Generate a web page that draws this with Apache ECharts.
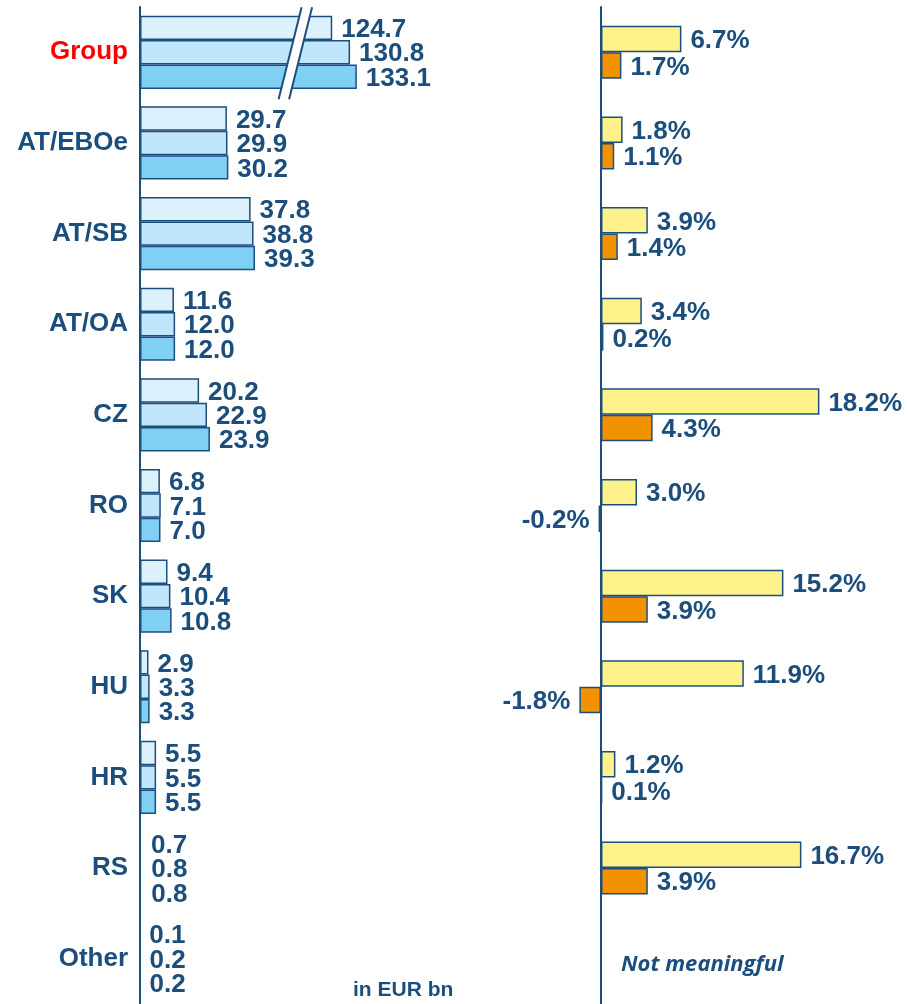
<!DOCTYPE html>
<html>
<head>
<meta charset="utf-8">
<script src="https://cdn.jsdelivr.net/npm/echarts@6/dist/echarts.min.js"></script>
<style>
html,body{margin:0;padding:0;background:#fff;}
#chart{width:908px;height:1004px;}
</style>
</head>
<body>
<div id="chart"></div>
<script>
// categories (top to bottom)
var categories = ['Group', 'AT/EBOe', 'AT/SB', 'AT/OA', 'CZ', 'RO', 'SK', 'HU', 'HR', 'RS', 'Other'];
// volumes in EUR bn, three periods
var volA = [124.7, 29.7, 37.8, 11.6, 20.2, 6.8, 9.4, 2.9, 5.5, 0.7, 0.1];
var volB = [130.8, 29.9, 38.8, 12.0, 22.9, 7.1, 10.4, 3.3, 5.5, 0.8, 0.2];
var volC = [133.1, 30.2, 39.3, 12.0, 23.9, 7.0, 10.8, 3.3, 5.5, 0.8, 0.2];
// growth rates in %
var growthYoY = [6.7, 1.8, 3.9, 3.4, 18.2, 3.0, 15.2, 11.9, 1.2, 16.7, null];
var growthQoQ = [1.7, 1.1, 1.4, 0.2, 4.3, -0.2, 3.9, -1.8, 0.1, 3.9, null];
// axis break on the left value axis
var breakFrom = 53, breakTo = 112;

var navy = '#1c4e7d';
var font = '"Liberation Sans", Arial, sans-serif';
// these rows show numbers only, no bars
var hideSmall = ['RS', 'Other'];

function volData(arr) {
    return arr.map(function (v, i) {
        if (hideSmall.indexOf(categories[i]) >= 0) {
            return {value: v, itemStyle: {color: 'rgba(0,0,0,0)', borderWidth: 0}};
        }
        return v;
    });
}
function growthData(arr) {
    return arr.map(function (v) {
        if (v !== null && v < 0) {
            return {value: v, label: {position: 'left'}};
        }
        return v;
    });
}

var valueLabel = {
    show: true,
    position: 'right',
    distance: 9,
    offset: [0, 2],
    color: navy,
    fontFamily: font,
    fontWeight: 'bold',
    fontSize: 26
};

function volSeries(name, arr, color) {
    return {
        name: name,
        type: 'bar',
        xAxisIndex: 0,
        yAxisIndex: 0,
        barWidth: 24.4,
        barGap: '0%',
        data: volData(arr),
        itemStyle: {color: color, borderColor: navy, borderWidth: 1.5},
        label: Object.assign({}, valueLabel, {
            formatter: function (p) { return p.value.toFixed(1); }
        })
    };
}
function growthSeries(name, arr, color) {
    return {
        name: name,
        type: 'bar',
        xAxisIndex: 1,
        yAxisIndex: 1,
        barWidth: 26.5,
        barGap: '0%',
        data: growthData(arr),
        itemStyle: {color: color, borderColor: navy, borderWidth: 1.5},
        label: Object.assign({}, valueLabel, {
            formatter: function (p) { return p.value.toFixed(1) + '%'; }
        })
    };
}

var chart = echarts.init(document.getElementById('chart'));
var option = {
    animation: false,
    grid: [
        {left: 140, top: 7, width: 237, height: 1000},
        {left: 541, top: 7, width: 300, height: 1000}
    ],
    title: [
        {
            text: 'in EUR bn', left: 348, top: 975,
            textStyle: {color: navy, fontFamily: font, fontWeight: 'bold', fontSize: 21}
        },
        {
            text: 'Not meaningful', left: 616, top: 949,
            textStyle: {color: navy, fontFamily: '"Open Sans", sans-serif', fontStyle: 'italic', fontWeight: 'bold', fontSize: 22}
        }
    ],
    xAxis: [
        {
            gridIndex: 0, type: 'value', min: 0, max: 140,
            breaks: [{start: breakFrom, end: breakTo, gap: 0}],
            breakArea: {show: false},
            axisLine: {show: false}, axisTick: {show: false},
            axisLabel: {show: false}, splitLine: {show: false}
        },
        {
            gridIndex: 1, type: 'value', min: -5, max: 20,
            axisLine: {show: false}, axisTick: {show: false},
            axisLabel: {show: false}, splitLine: {show: false}
        }
    ],
    yAxis: [
        {
            gridIndex: 0, type: 'category', inverse: true, data: categories,
            axisLine: {show: true, lineStyle: {color: navy, width: 2}},
            axisTick: {show: false},
            axisLabel: {
                margin: 12,
                padding: [5, 0, 0, 0],
                fontFamily: font, fontWeight: 'bold', fontSize: 26,
                color: function (v) { return v === 'Group' ? '#ff0000' : navy; }
            }
        },
        {
            gridIndex: 1, type: 'category', inverse: true, data: categories,
            axisLine: {show: true, onZero: true, lineStyle: {color: navy, width: 2}},
            axisTick: {show: false},
            axisLabel: {show: false}
        }
    ],
    series: [
        volSeries('vol1', volA, '#ddf1fd'),
        volSeries('vol2', volB, '#bfe6fa'),
        volSeries('vol3', volC, '#80d0f4'),
        growthSeries('yoy', growthYoY, '#fff28a'),
        growthSeries('qoq', growthQoQ, '#f39200'),
        {
            // break marker across the Group bars
            type: 'custom',
            xAxisIndex: 0,
            yAxisIndex: 0,
            z: 10,
            data: [[breakFrom, 0]],
            renderItem: function (params, api) {
                var c = api.coord([api.value(0), api.value(1)]);
                var top = c[1] - 45, bot = c[1] + 47, s = 11.5, w = 10.5;
                var x = c[0] - 5;
                return {
                    type: 'group',
                    children: [
                        {type: 'polygon', shape: {points: [[x + s, top], [x + s + w, top], [x - s + w, bot], [x - s, bot]]}, style: {fill: '#fff'}},
                        {type: 'line', shape: {x1: x + s, y1: top, x2: x - s, y2: bot}, style: {stroke: navy, lineWidth: 2}},
                        {type: 'line', shape: {x1: x + s + w, y1: top, x2: x - s + w, y2: bot}, style: {stroke: navy, lineWidth: 2}}
                    ]
                };
            }
        }
    ]
};
chart.setOption(option);
</script>
</body>
</html>
